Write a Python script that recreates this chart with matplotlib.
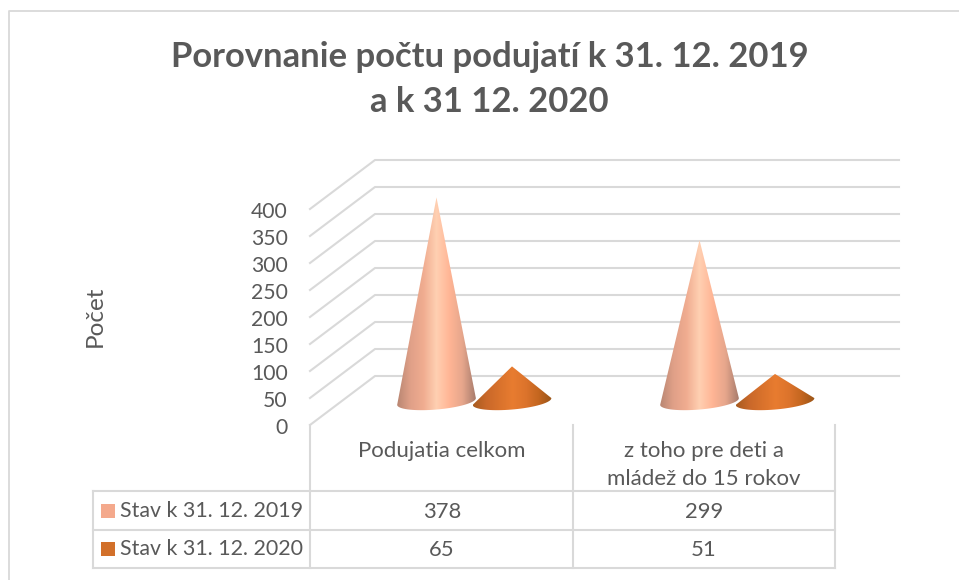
#!/bin/python3

import matplotlib
matplotlib.use("Agg")
import matplotlib.pyplot as plt
from matplotlib.colors import LinearSegmentedColormap
from matplotlib.patches import PathPatch, Rectangle
from matplotlib.path import Path
from matplotlib.transforms import ScaledTranslation
import numpy as np

categories = ["Podujatia celkom", "z toho pre deti a\nmládež do 15 rokov"]
series_names = ["Stav k 31. 12. 2019", "Stav k 31. 12. 2020"]
values_2019 = [378, 299]
values_2020 = [65, 51]
y_ticks = [0, 50, 100, 150, 200, 250, 300, 350, 400]

W, H = 959, 580
GREY = "#595959"
GRID = "#d9d9d9"
PEACH = ["#b98672", "#e0a088", "#f0ac90", "#ffd0b2", "#ffb595", "#e6a68c", "#a87c6c"]
ORANGE = ["#a85c20", "#c9682a", "#d9722c", "#e87c30", "#dd742c", "#c4661f", "#9a5518"]
KEYS = ["#f4a98c", "#d2702a"]

plt.rcParams["font.family"] = ["Lato", "DejaVu Sans"]

fig = plt.figure(figsize=(W / 100, H / 100), dpi=100)
fig.patch.set_facecolor("white")


def px_box(x0, y0, x1, y1):
    return [x0 / W, 1 - y1 / H, (x1 - x0) / W, (y1 - y0) / H]


# overlay in pixels for frame, table and the side wall
pg = fig.add_axes([0, 0, 1, 1])
pg.set_xlim(0, W)
pg.set_ylim(H, 0)
pg.axis("off")

# front plane, value scale of the chart
ax = fig.add_axes(px_box(310, 209, 835, 425))
ax.set_xlim(0, 2)
ax.set_ylim(0, 400)
ax.patch.set_alpha(0)
for s in ax.spines.values():
    s.set_visible(False)
ax.set_xticks([])
ax.set_yticks(y_ticks)
ax.tick_params(axis="y", length=0, pad=16, labelsize=15.2, labelcolor=GREY)
nudge = ScaledTranslation(0, -3 / 100, fig.dpi_scale_trans)
for lab in ax.get_yticklabels():
    lab.set_verticalalignment("center")
    lab.set_transform(lab.get_transform() + nudge)
ax.set_ylabel("Počet", fontsize=17.5, color=GREY)
ax.yaxis.set_label_coords(-0.39, 0.505)

# chart area border, only top and left are visible
pg.plot([9, 9, W], [H, 10.5, 10.5], color=GRID, lw=1.3)

# depth of the floor in the 3d box
DX, DY = 65, 49
for v in y_ticks:
    y = H - ax.transData.transform((0, v))[1]
    pg.plot([310, 310 + DX, 899], [y, y - DY, y - DY], color=GRID, lw=1.5)

# table grid
for x in [310, 573, 835]:
    pg.plot([x, x], [425, 568], color=GRID, lw=1.5)
pg.plot([93, 93], [491, 568], color=GRID, lw=1.5)
for y in [491, 530, 568]:
    pg.plot([93, 835], [y, y], color=GRID, lw=1.5)

for i, name in enumerate(series_names):
    y = 511 + i * 38
    pg.add_patch(Rectangle((101, y - 7), 14, 14, color=KEYS[i], lw=0))
    pg.text(120, y, name, fontsize=15.4, color=GREY, va="center", ha="left")

for i, cat in enumerate(categories):
    xc = 442 + i * 262
    pg.text(xc, 465 if i else 451, cat, fontsize=16, color=GREY, ha="center", va="center", linespacing=1.5)
    pg.text(xc, 512, str(values_2019[i]), fontsize=15.8, color=GREY, ha="center", va="center")
    pg.text(xc, 550, str(values_2020[i]), fontsize=15.8, color=GREY, ha="center", va="center")

pg.text(489.5, 79.5, "Porovnanie počtu podujatí k 31. 12. 2019\na k 31 12. 2020", fontsize=24.9,
        fontweight="bold", color=GREY, ha="center", va="center", linespacing=1.5)


def cone(xc, value, colors):
    # base sits in the middle of the floor, height comes from the value axis
    base = H - ax.transData.transform((0, 0))[1] - 23.5
    unit = ax.transData.transform((0, 1))[1] - ax.transData.transform((0, 0))[1]
    apex = base - value * unit
    hw = 39.5
    tilt = np.radians(-5)
    t = np.linspace(0, np.pi, 40)
    ex = hw * np.cos(t)
    ey = 8 * np.sin(t)
    bx = xc + ex * np.cos(tilt) - ey * np.sin(tilt)
    by = base + ex * np.sin(tilt) + ey * np.cos(tilt)
    verts = [(xc, apex)] + list(zip(bx, by)) + [(xc, apex)]
    codes = [Path.MOVETO] + [Path.LINETO] * (len(verts) - 2) + [Path.CLOSEPOLY]
    clip = PathPatch(Path(verts, codes), fc="none", ec="none", transform=pg.transData)
    pg.add_patch(clip)
    cmap = LinearSegmentedColormap.from_list("c", colors)
    im = pg.imshow(np.linspace(0, 1, 200).reshape(1, -1), cmap=cmap, aspect="auto",
                   extent=(xc - hw, xc + hw, base + 12, apex), zorder=3)
    im.set_clip_path(clip)


for i in range(len(categories)):
    shift = i * 263
    cone(436.5 + shift, values_2019[i], PEACH)
    cone(512 + shift, values_2020[i], ORANGE)

pg.set_xlim(0, W)
pg.set_ylim(H, 0)

fig.savefig("out.png", dpi=100)
